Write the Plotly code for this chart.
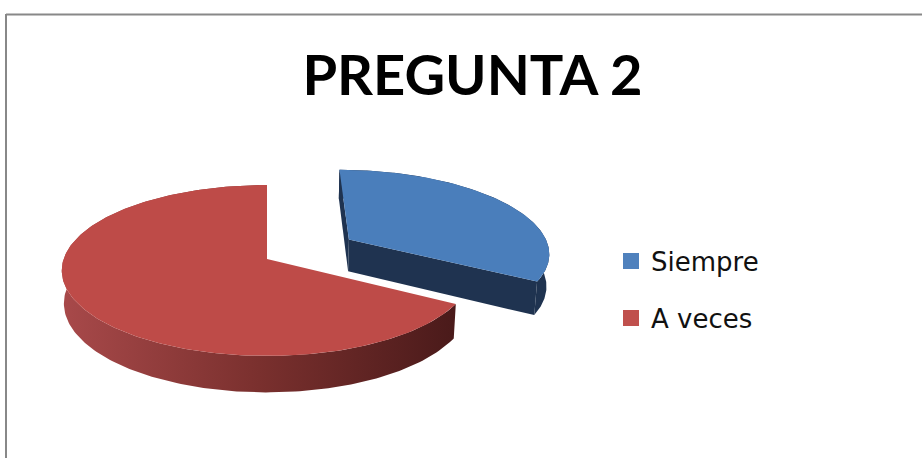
import numpy as np
import plotly.graph_objects as go

# ---- data ----
categories = ["Siempre", "A veces"]
values = [10, 20]
title_text = "PREGUNTA 2"

# ---- style ----
top_colors = ["#4A7EBB", "#BE4B48"]
side_colors = ["#1F3350", "#7A302E"]
legend_colors = ["#4F81BD", "#C0504D"]
red_side_scale = [[0.0, "#A8494A"], [0.5, "#7A302E"], [1.0, "#4A1A1A"]]
pull = [0.48, 0.0]

W, H = 922, 458

# perspective projection of the 3-D pie
CX, CY = 267.0, 259.0
FX, FY = 1385.0, 1416.0
D = 6.81
SIN_T, COS_T = 0.4036, 0.915
THICK = 0.173


def project(u, v, h):
    u = np.asarray(u, dtype=float)
    v = np.asarray(v, dtype=float)
    h = np.asarray(h, dtype=float) * np.ones_like(u)
    yv = v * SIN_T + h * COS_T
    zv = D + v * COS_T - h * SIN_T
    return CX + FX * u / zv, CY - FY * yv / zv


total = float(sum(values))
angles = np.concatenate([[0.0], np.cumsum(values) / total * 360.0])

fig = go.Figure()
slice_traces = []
for i, (cat, val) in enumerate(zip(categories, values)):
    a0, a1 = np.radians(angles[i]), np.radians(angles[i + 1])
    mid = 0.5 * (a0 + a1)
    ou, ov = pull[i] * np.sin(mid), pull[i] * np.cos(mid)
    phi = np.linspace(a0, a1, 200)
    ru, rv = ou + np.sin(phi), ov + np.cos(phi)
    tx, ty = project(ru, rv, 0.0)
    bx, by = project(ru, rv, -THICK)
    cxt, cyt = project([ou], [ov], 0.0)
    cxb, cyb = project([ou], [ov], -THICK)
    traces = []
    # outer side band
    sx = np.concatenate([tx, bx[::-1]])
    sy = np.concatenate([ty, by[::-1]])
    side = dict(x=sx, y=sy, mode="lines", fill="toself", line=dict(width=0),
                fillcolor=side_colors[i], hoverinfo="skip", showlegend=False)
    if i == 1:
        side["fillgradient"] = dict(type="horizontal", colorscale=red_side_scale,
                                    start=float(sx.min()), stop=float(sx.max()))
    traces.append(side)
    # radial faces (visible ones for the exploded slice)
    if pull[i] > 0:
        for k in (0, -1):
            fx = [cxt[0], tx[k], bx[k], cxb[0], cxt[0]]
            fy = [cyt[0], ty[k], by[k], cyb[0], cyt[0]]
            traces.append(dict(x=fx, y=fy, mode="lines", fill="toself",
                               fillcolor=side_colors[i], line=dict(width=0),
                               hoverinfo="skip", showlegend=False))
    # top face
    px = np.concatenate([[cxt[0]], tx, [cxt[0]]])
    py = np.concatenate([[cyt[0]], ty, [cyt[0]]])
    traces.append(dict(x=px, y=py, mode="lines", fill="toself",
                       fillcolor=top_colors[i], line=dict(width=0),
                       hoverinfo="skip", showlegend=False))
    slice_traces.append(traces)

# draw far (exploded blue) slice first, then the red one in front
for traces in slice_traces:
    for t in traces:
        fig.add_trace(go.Scatter(**t))

# legend entries
legend_names = ["legend", "legend2"]
for i, cat in enumerate(categories):
    fig.add_trace(go.Scatter(x=[None], y=[None], mode="markers", name=cat,
                             marker=dict(symbol="square", size=16,
                                         color=legend_colors[i]),
                             legend=legend_names[i], showlegend=True))

legend_font = dict(family="DejaVu Sans", size=26, color="#111111")
fig.update_layout(
    width=W, height=H,
    margin=dict(l=0, r=0, t=0, b=0),
    paper_bgcolor="white", plot_bgcolor="white",
    xaxis=dict(range=[0, W], visible=False, fixedrange=True),
    yaxis=dict(range=[H, 0], visible=False, fixedrange=True),
    title=dict(text="<b>" + title_text + "</b>", x=472.5 / W, xanchor="center",
               y=1 - 75 / H, yanchor="middle", yref="container",
               font=dict(family="Lato", size=56, color="#000000")),
    legend=dict(x=611 / W, y=1 - 261 / H, xanchor="left", yanchor="middle",
                font=legend_font, bgcolor="rgba(0,0,0,0)"),
    legend2=dict(x=611 / W, y=1 - 318 / H, xanchor="left", yanchor="middle",
                 font=legend_font, bgcolor="rgba(0,0,0,0)"),
    shapes=[
        dict(type="line", xref="x", yref="y", x0=6, x1=W, y0=14.5, y1=14.5,
             line=dict(color="#888888", width=2)),
        dict(type="line", xref="x", yref="y", x0=6, x1=6, y0=14, y1=H,
             line=dict(color="#888888", width=2)),
    ],
)

fig.write_html(
    "out.html",
    config={"displayModeBar": False, "staticPlot": True},
    post_script="document.body.style.margin='0px';document.body.style.overflow='hidden';",
)
